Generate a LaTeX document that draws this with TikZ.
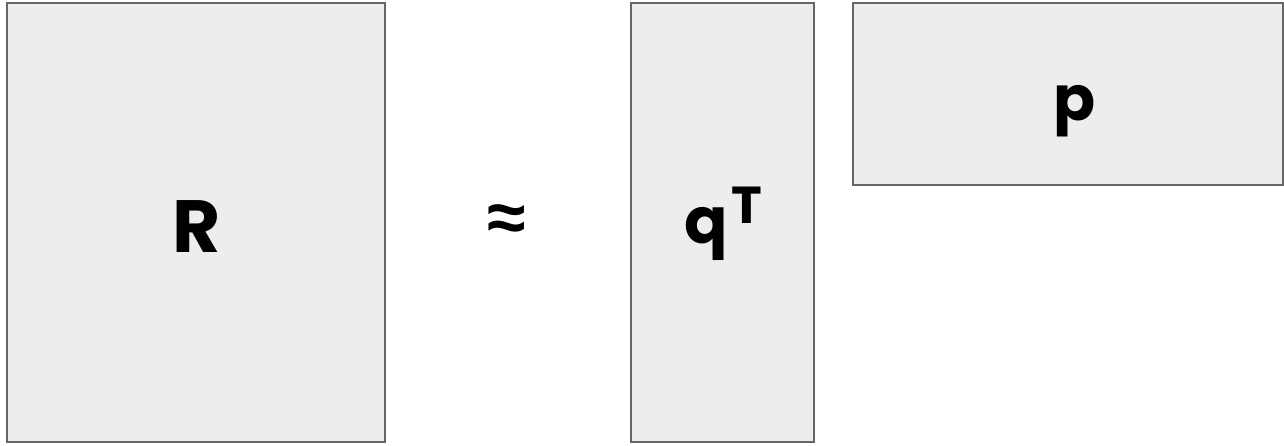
\documentclass[tikz,border=0pt]{standalone}
\usepackage{fontspec}
\setmainfont{Poppins}
\newfontfamily\symfont{Liberation Sans}
\begin{document}
\begin{tikzpicture}[x=1pt,y=-1pt,
  mat/.style={draw=black!60,fill=black!7,line width=2pt},
  lbl/.style={inner sep=0pt,anchor=base}]
\useasboundingbox (0,0) rectangle (1284,445);
\draw[mat] (7,3) rectangle (385,442);
\draw[mat] (631,3) rectangle (814,442);
\draw[mat] (853,3) rectangle (1283,185);
\node[lbl,font=\fontsize{74}{74}\selectfont\bfseries] (R) at (197,252) {R};
\node[inner sep=0pt,font=\fontsize{70}{70}\selectfont\symfont\bfseries] (eq) at (507,223) {≈};
\node[lbl,anchor=base west,font=\fontsize{64}{64}\selectfont\bfseries] (q) at (684,243) {q};
\node[lbl,anchor=base west,font=\fontsize{52}{52}\selectfont\bfseries] (T) at (731,223) {T};
\node[lbl,font=\fontsize{62}{62}\selectfont\bfseries] (p) at (1075,120) {p};
\end{tikzpicture}
\end{document}
